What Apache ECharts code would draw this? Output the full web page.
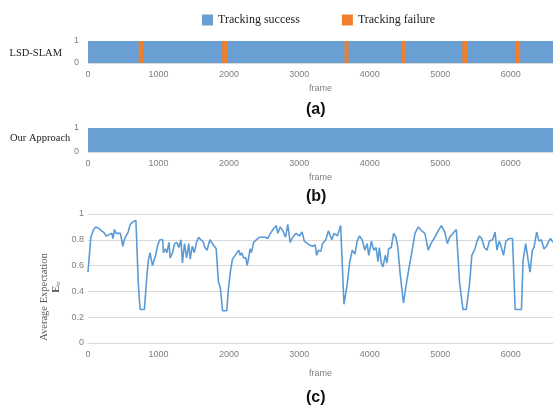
<!DOCTYPE html>
<html>
<head>
<meta charset="utf-8">
<script src="https://cdn.jsdelivr.net/npm/echarts@6/dist/echarts.min.js"></script>
<style>
html, body { margin: 0; padding: 0; background: #fff; }
#main { width: 553px; height: 413px; }
</style>
</head>
<body>
<div id="main"></div>
<script>
// frame range of all three panels (the plots are cut at the last frame)
var frameMax = 6600;

// (a) LSD-SLAM tracking failure spans, in frames
var lsdFailStart = [721, 1905, 3642, 4443, 5313, 6060];
var lsdFailEnd   = [781, 1985, 3697, 4502, 5388, 6134];

// (c) average expectation E_tr per frame
var frames = [0, 40, 80, 110, 150, 190, 220, 240, 260, 280, 300, 320, 340, 355, 375, 400, 430, 460, 480, 495,
    515, 540, 570, 600, 640, 680, 715, 740, 760, 800, 820, 840, 860, 880, 900, 915, 940, 960, 990, 1020,
    1060, 1070, 1100, 1120, 1150, 1165, 1200, 1230, 1260, 1290, 1320, 1340, 1370, 1400, 1430, 1450, 1480, 1510, 1540, 1570,
    1600, 1630, 1660, 1690, 1730, 1780, 1820, 1850, 1880, 1910, 1970, 1990, 2020, 2050, 2090, 2140, 2160, 2180, 2210, 2240,
    2260, 2280, 2300, 2320, 2350, 2390, 2430, 2480, 2520, 2550, 2590, 2625, 2672, 2695, 2728, 2765, 2803, 2836, 2869, 2906,
    2953, 3000, 3038, 3070, 3094, 3141, 3188, 3225, 3244, 3272, 3305, 3328, 3375, 3413, 3460, 3492, 3539, 3586, 3633, 3680,
    3713, 3750, 3788, 3821, 3854, 3891, 3929, 3961, 3985, 4022, 4055, 4088, 4116, 4135, 4163, 4187, 4219, 4243, 4266, 4304,
    4337, 4370, 4398, 4430, 4477, 4530, 4595, 4641, 4688, 4735, 4782, 4829, 4867, 4923, 4970, 5017, 5064, 5101, 5134, 5181,
    5228, 5275, 5322, 5369, 5416, 5448, 5486, 5523, 5556, 5589, 5626, 5664, 5697, 5744, 5777, 5805, 5837, 5861, 5898, 5931,
    5978, 6025, 6063, 6152, 6175, 6213, 6245, 6274, 6307, 6330, 6368, 6401, 6434, 6471, 6508, 6541, 6565, 6600];
var expectation = [0.55, 0.82, 0.88, 0.90, 0.89, 0.87, 0.86, 0.87, 0.83, 0.82, 0.84, 0.83, 0.85, 0.81, 0.88, 0.85, 0.85, 0.85, 0.86, 0.75,
    0.80, 0.83, 0.86, 0.92, 0.94, 0.95, 0.45, 0.26, 0.25, 0.26, 0.27, 0.55, 0.65, 0.70, 0.70, 0.60, 0.60, 0.68, 0.76, 0.80,
    0.80, 0.70, 0.73, 0.70, 0.78, 0.66, 0.70, 0.77, 0.78, 0.74, 0.80, 0.62, 0.77, 0.66, 0.77, 0.65, 0.75, 0.70, 0.78, 0.82,
    0.80, 0.79, 0.74, 0.72, 0.80, 0.76, 0.73, 0.48, 0.42, 0.25, 0.25, 0.40, 0.55, 0.65, 0.68, 0.72, 0.68, 0.70, 0.66, 0.66,
    0.60, 0.66, 0.73, 0.70, 0.78, 0.80, 0.82, 0.82, 0.82, 0.81, 0.85, 0.88, 0.91, 0.85, 0.90, 0.87, 0.82, 0.92, 0.78, 0.82,
    0.85, 0.83, 0.86, 0.79, 0.78, 0.76, 0.75, 0.76, 0.68, 0.72, 0.71, 0.77, 0.80, 0.87, 0.80, 0.85, 0.83, 0.91, 0.30, 0.46,
    0.62, 0.72, 0.69, 0.79, 0.83, 0.80, 0.72, 0.77, 0.68, 0.79, 0.72, 0.74, 0.63, 0.74, 0.62, 0.59, 0.68, 0.62, 0.73, 0.74,
    0.85, 0.82, 0.74, 0.54, 0.31, 0.50, 0.70, 0.85, 0.90, 0.87, 0.85, 0.72, 0.77, 0.82, 0.87, 0.91, 0.86, 0.77, 0.82, 0.85,
    0.88, 0.46, 0.26, 0.26, 0.46, 0.68, 0.72, 0.79, 0.83, 0.81, 0.74, 0.72, 0.79, 0.80, 0.86, 0.72, 0.79, 0.75, 0.68, 0.79,
    0.81, 0.81, 0.26, 0.26, 0.64, 0.77, 0.65, 0.55, 0.72, 0.74, 0.86, 0.79, 0.80, 0.73, 0.75, 0.79, 0.81, 0.78];

var blue = '#6a9fd4';
var orange = '#ef7f2a';
var labelGrey = '#7f7f7f';
var gridGrey = '#d9d9d9';
var serif = 'Liberation Serif';
var sans = 'Liberation Sans';

var myChart = echarts.init(document.getElementById('main'));

function spanItem(params, api) {
    var p0 = api.coord([api.value(0), 1]);
    var p1 = api.coord([api.value(1), 0]);
    return {
        type: 'rect',
        shape: { x: p0[0], y: p0[1], width: p1[0] - p0[0], height: p1[1] - p0[1] },
        style: { fill: api.visual('color') }
    };
}

function plainNum(v) { return String(v); }

var lsdFail = lsdFailStart.map(function (s, i) { return [s, lsdFailEnd[i]]; });
var linePoints = frames.map(function (f, i) { return [f, expectation[i]]; });

function frameAxis(idx, gap) {
    return {
        type: 'value', gridIndex: idx, min: 0, max: frameMax, interval: 1000,
        name: 'frame', nameLocation: 'middle', nameGap: gap,
        nameTextStyle: { color: labelGrey, fontFamily: sans, fontSize: 9 },
        axisLine: { show: true, lineStyle: { color: gridGrey } },
        axisTick: { show: false },
        splitLine: { show: false },
        axisLabel: { color: labelGrey, fontFamily: sans, fontSize: 9, margin: 7, formatter: plainNum, showMaxLabel: false }
    };
}

function flagAxis(idx) {
    return {
        type: 'value', gridIndex: idx, min: 0, max: 1, interval: 1,
        axisLine: { show: false }, axisTick: { show: false }, splitLine: { show: false },
        axisLabel: { color: labelGrey, fontFamily: sans, fontSize: 9, margin: 9 }
    };
}

var option = {
    animation: false,
    backgroundColor: '#fff',
    legend: {
        data: ['Tracking success', 'Tracking failure'],
        left: 197, top: 9,
        icon: 'rect', itemWidth: 11, itemHeight: 11, itemGap: 42,
        textStyle: { fontFamily: serif, fontSize: 12, color: '#222' }
    },
    grid: [
        { left: 88, top: 41, right: 0, height: 22, outerBoundsMode: 'none' },
        { left: 88, top: 128, right: 0, height: 24, outerBoundsMode: 'none' },
        { left: 88, top: 214, right: 0, height: 129, outerBoundsMode: 'none' }
    ],
    xAxis: [frameAxis(0, 21), frameAxis(1, 21), frameAxis(2, 26)],
    yAxis: [
        flagAxis(0),
        flagAxis(1),
        {
            type: 'value', gridIndex: 2, min: 0, max: 1, interval: 0.2,
            axisLine: { show: false }, axisTick: { show: false },
            splitLine: { lineStyle: { color: gridGrey } },
            axisLabel: { color: labelGrey, fontFamily: sans, fontSize: 9, margin: 4 }
        }
    ],
    graphic: [
        { type: 'text', right: 491, top: 48, style: { text: 'LSD-SLAM', font: '10.5px "Liberation Serif"', fill: '#222' } },
        { type: 'text', left: 10, top: 133, style: { text: 'Our Approach', font: '10.5px "Liberation Serif"', fill: '#222' } },
        { type: 'text', left: 306, top: 102, style: { text: '(a)', font: 'bold 16px "Liberation Sans"', fill: '#111' } },
        { type: 'text', left: 306, top: 189, style: { text: '(b)', font: 'bold 16px "Liberation Sans"', fill: '#111' } },
        { type: 'text', left: 306, top: 390, style: { text: '(c)', font: 'bold 16px "Liberation Sans"', fill: '#111' } },
        {
            type: 'text', x: 44, y: 297, rotation: Math.PI / 2,
            style: {
                text: 'Average Expectation', align: 'center', verticalAlign: 'middle',
                font: '10.5px "Liberation Serif"', fill: '#595959'
            }
        },
        {
            type: 'text', x: 56, y: 287, rotation: Math.PI / 2,
            style: {
                text: '{e|E}{t|tr}', align: 'center', verticalAlign: 'middle',
                rich: {
                    e: { fontFamily: serif, fontSize: 10.5, fill: '#595959', fontWeight: 'bold' },
                    t: { fontFamily: serif, fontSize: 7, fill: '#595959', verticalAlign: 'bottom' }
                }
            }
        }
    ],
    series: [
        {
            name: 'Tracking success', type: 'custom', xAxisIndex: 0, yAxisIndex: 0,
            itemStyle: { color: blue }, renderItem: spanItem, encode: { x: [0, 1] },
            data: [[0, frameMax]]
        },
        {
            name: 'Tracking failure', type: 'custom', xAxisIndex: 0, yAxisIndex: 0,
            itemStyle: { color: orange }, renderItem: spanItem, encode: { x: [0, 1] },
            data: lsdFail
        },
        {
            name: 'Tracking success', type: 'custom', xAxisIndex: 1, yAxisIndex: 1,
            itemStyle: { color: blue }, renderItem: spanItem, encode: { x: [0, 1] },
            data: [[0, frameMax]]
        },
        {
            name: 'E_tr', type: 'line', xAxisIndex: 2, yAxisIndex: 2,
            showSymbol: false, symbol: 'none',
            lineStyle: { color: '#5b9bd5', width: 1.6 },
            data: linePoints
        }
    ]
};

myChart.setOption(option);
</script>
</body>
</html>
